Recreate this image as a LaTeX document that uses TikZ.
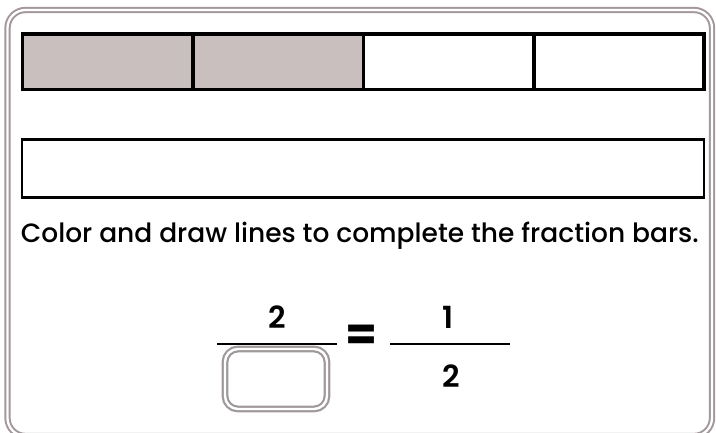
\documentclass[tikz,border=0pt]{standalone}
\usepackage{fontspec}
\setmainfont{Poppins}
\newfontfamily\medfont{Poppins Medium}
\newfontfamily\semifont{Poppins SemiBold}
\definecolor{framegray}{HTML}{A3979A}
\definecolor{shade}{HTML}{C8BFBE}
\definecolor{boxgray}{HTML}{A0999A}
\tikzset{frame/.style={draw=framegray, double=white, line width=2pt, double distance=2.3pt, rounded corners=18pt}, cell/.style={draw=black, line width=3.6pt, minimum width=170.4pt, minimum height=55.5pt, inner sep=0pt, outer sep=0pt}, bar/.style={draw=black, line width=2.7pt, minimum width=682pt, minimum height=57.8pt, inner sep=0pt, outer sep=0pt}, hint/.style={draw=boxgray, double=white, line width=2.2pt, double distance=2.4pt, rounded corners=13pt, minimum width=102pt, minimum height=60pt, inner sep=0pt}, num/.style={font=\semifont\fontsize{30.5}{30.5}\selectfont, inner sep=0pt, anchor=base}, fracline/.style={line width=2pt}}

\begin{document}
\begin{tikzpicture}[x=1pt,y=-1pt]
\useasboundingbox (0,0) rectangle (716,432);
\draw[frame] (7.5,10) rectangle (712,436);
\foreach \i/\c in {1/shade,2/shade,3/white,4/white}{\node[cell, fill=\c] (c\i) at ({22.5+170.4*(\i-.5)},61.75) {};}
\node[bar] (whole) at (363,168.4) {};
\node[anchor=base west, inner sep=0pt, font=\medfont\fontsize{26.5}{26.5}\selectfont] (task) at (20.7,242) {Color and draw lines to complete the fraction bars.};
\coordinate (la) at (217,344); \coordinate (lb) at (337,344); \draw[fracline] (la)--(lb);
\coordinate (ra) at (390,344); \coordinate (rb) at (510,344); \draw[fracline] (ra)--(rb);
\node[num] (ltop) at (277,328.5) {2};
\node[hint] (lbox) at (276,379) {};
\node[font=\bfseries\fontsize{46}{46}\selectfont, inner sep=0pt] (eq) at (362,338) {=};
\node[num] (rtop) at (448,328.5) {1};
\node[num] (rbot) at (451,387.5) {2};
\end{tikzpicture}
\end{document}
